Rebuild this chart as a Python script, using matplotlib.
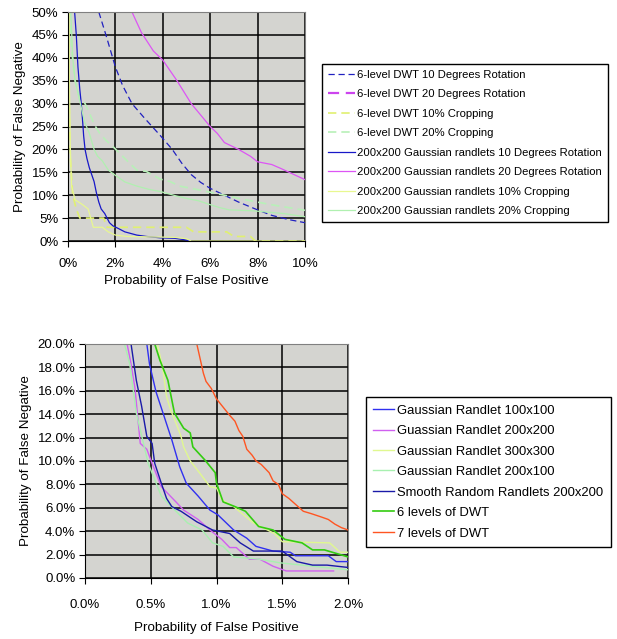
import matplotlib
matplotlib.use("Agg")
import matplotlib.pyplot as plt
from matplotlib.ticker import FuncFormatter, MultipleLocator

plt.rcParams['font.family'] = ['Liberation Sans', 'DejaVu Sans']

# ---------------------------------------------------------------------------
# Top chart data (x = P(false positive) %, y = P(false negative) %)
# ---------------------------------------------------------------------------
dwt_rot10_x = [1.3, 1.6, 2.0, 2.3, 2.7, 3.2, 3.9, 4.4, 4.8, 5.2, 5.6, 6.0, 6.6, 7.2, 8.0, 8.6, 9.3, 10.0]
dwt_rot10_y = [50, 45, 38, 34, 30, 27, 23, 20, 17, 14.5, 12.8, 11.5, 10, 8.5, 6.8, 5.6, 4.7, 4.0]

dwt_rot20_x = []   # falls outside the plotted range
dwt_rot20_y = []

dwt_crop10_x = [0.02, 0.05, 0.1, 0.2, 0.35, 0.5, 1.5, 1.65, 5.0, 5.3, 6.7, 7.0, 7.7, 7.9, 10.0]
dwt_crop10_y = [50, 30, 18, 10, 7, 5, 5, 3, 3, 2, 2, 1, 1, 0, 0]

dwt_crop20_x = [0.07, 0.15, 0.3, 0.5, 0.7, 0.9, 1.1, 1.34, 1.6, 1.9, 2.46, 2.9, 3.3, 3.9, 4.3, 4.7, 5.6, 6.6, 7.5, 8.5, 10.0]
dwt_crop20_y = [50, 42, 35, 31, 30.2, 28, 25.5, 23.5, 22, 20.6, 17.7, 15.5, 15.2, 13.5, 13, 12, 11.1, 10, 9, 8, 6.7]

rnd_rot10_x = [0.28, 0.35, 0.42, 0.5, 0.56, 0.62, 0.66, 0.72, 0.8, 0.9, 1.0, 1.1, 1.2, 1.3, 1.4, 1.55, 1.65,
               1.75, 1.9, 2.1, 2.4, 2.9, 3.3, 3.9, 4.5, 4.9, 5.2]
rnd_rot10_y = [50, 45, 38, 33, 30, 26, 23, 20, 18, 16, 14.5, 13, 10.5, 8.5, 7, 6, 5,
               4, 3.3, 2.8, 2, 1.3, 1.0, 0.7, 0.6, 0.3, 0]

rnd_rot20_x = [2.7, 3.1, 3.6, 4.0, 4.6, 5.2, 5.6, 6.0, 6.3, 6.6, 7.2, 7.7, 8.0, 8.6, 9.0, 10.0]
rnd_rot20_y = [50, 45.5, 41.5, 39.5, 35, 30, 27.5, 25, 23.5, 21.5, 20, 18.5, 17.3, 16.7, 15.8, 13.4]

rnd_crop10_x = [0.05, 0.06, 0.1, 0.15, 0.3, 0.6, 0.85, 1.07, 1.45, 1.7, 2.0, 2.5, 3.5, 4.5, 5.0, 5.2, 10.0]
rnd_crop10_y = [50, 35, 20, 12, 9, 8, 7, 3, 3, 2, 1.3, 1.0, 0.9, 0.8, 0.5, 0, 0]

rnd_crop20_x = [0.12, 0.2, 0.3, 0.5, 0.7, 0.9, 1.1, 1.25, 1.45, 1.7, 1.9, 2.4, 2.9, 3.4, 3.9, 4.6, 5.1, 5.5,
                5.9, 6.4, 6.8, 7.8, 9.1, 10.0]
rnd_crop20_y = [50, 40, 35, 30.5, 26, 23.5, 20, 18.5, 17.5, 15.5, 14.7, 12.9, 12, 11.3, 10.8, 9.8, 9.2, 8.8,
                8.1, 7.3, 6.8, 6.6, 6, 5.3]

# ---------------------------------------------------------------------------
# Bottom chart data
# ---------------------------------------------------------------------------
g100_x = [0.47, 0.49, 0.54, 0.59, 0.66, 0.72, 0.77, 0.86, 0.95, 1.01, 1.13, 1.23, 1.3, 1.43, 1.56, 1.6,
          1.85, 1.91, 2.0]
g100_y = [20, 18.3, 15.9, 14.2, 11.8, 9.5, 8.1, 7.0, 5.8, 5.4, 4.1, 3.4, 2.7, 2.3, 2.2, 1.9, 1.9, 1.4, 1.4]

g200_x = [0.32, 0.35, 0.38, 0.42, 0.47, 0.51, 0.58, 0.7, 0.75, 0.86, 0.95, 1.04, 1.1, 1.15, 1.25, 1.33,
          1.43, 1.53, 1.89]
g200_y = [20, 18.3, 16.2, 11.5, 11.0, 9.8, 7.8, 6.4, 5.8, 5.0, 4.1, 3.3, 2.6, 2.6, 1.6, 1.6, 1.0, 0.6, 0.6]

g300_x = [0.55, 0.59, 0.62, 0.65, 0.7, 0.73, 0.75, 0.8, 0.87, 0.95, 1.0, 1.04, 1.13, 1.28, 1.44, 1.5,
          1.86, 1.94, 2.0]
g300_y = [20, 18.0, 15.5, 14.4, 13.0, 12.1, 11.2, 10.0, 9.0, 7.8, 7.7, 6.7, 6.1, 4.7, 3.8, 3.1, 3.0, 2.2, 2.2]

g200x100_x = [0.3, 0.34, 0.39, 0.48, 0.53, 0.58, 0.63, 0.71, 0.78, 0.89, 0.97, 1.05, 1.13, 1.33, 1.48,
              1.73, 2.0]
g200x100_y = [20, 18.3, 14.1, 9.8, 8.4, 7.0, 6.4, 5.5, 4.7, 4.1, 3.0, 2.7, 1.8, 1.6, 1.3, 1.0, 0.7]

smooth_x = [0.35, 0.39, 0.43, 0.47, 0.51, 0.53, 0.58, 0.62, 0.66, 0.73, 0.85, 0.97, 1.1, 1.18, 1.28, 1.5,
            1.61, 1.73, 1.84, 2.0]
smooth_y = [20, 16.9, 14.7, 12.1, 11.5, 9.8, 8.1, 6.8, 6.1, 5.7, 4.8, 4.1, 3.8, 3.0, 2.3, 2.3,
            1.4, 1.1, 1.1, 0.9]

dwt6_x = [0.53, 0.57, 0.63, 0.68, 0.75, 0.8, 0.82, 0.91, 0.99, 1.0, 1.05, 1.14, 1.22, 1.32, 1.43, 1.52,
          1.65, 1.73, 1.82, 2.0]
dwt6_y = [20, 18.6, 16.9, 14.1, 12.8, 12.4, 11.2, 10.1, 9.0, 8.1, 6.5, 6.1, 5.7, 4.4, 4.1, 3.3,
          3.0, 2.4, 2.4, 1.8]

dwt7_x = [0.85, 0.88, 0.9, 0.92, 0.96, 1.0, 1.05, 1.1, 1.14, 1.17, 1.2, 1.23, 1.27, 1.3, 1.34, 1.4, 1.43,
          1.47, 1.5, 1.55, 1.6, 1.66, 1.72, 1.8, 1.85, 1.9, 1.95, 2.0]
dwt7_y = [20, 18.5, 17.5, 16.8, 16.2, 15.3, 14.6, 13.9, 13.4, 12.6, 12.1, 11.0, 10.5, 10.0, 9.7, 9.0, 8.3,
          8.0, 7.2, 6.8, 6.3, 5.7, 5.5, 5.2, 5.0, 4.6, 4.3, 4.1]

BG = '#d4d4d0'

fig = plt.figure(figsize=(6.17, 6.39), dpi=100)


def style_axes(ax, xpad=5, xlabelpad=5):
    ax.set_facecolor(BG)
    ax.grid(True, color='black', linewidth=1.1)
    ax.set_axisbelow(True)
    for side in ['top', 'right']:
        ax.spines[side].set_color('#808080')
    for side in ['left', 'bottom']:
        ax.spines[side].set_color('black')
    ax.tick_params(axis='both', direction='out', length=4, color='black', labelsize=9.5, pad=3)
    ax.tick_params(axis='x', pad=xpad)
    ax.set_ylabel('Probability of False Negative', fontsize=9.6, labelpad=4)
    ax.set_xlabel('Probability of False Positive', fontsize=9.6, labelpad=xlabelpad)


# ---- top chart ----
ax1 = fig.add_axes([0.1102, 0.6228, 0.3841, 0.3584])
style_axes(ax1, xpad=8, xlabelpad=4)
lw = 0.9
ax1.plot(dwt_rot10_x, dwt_rot10_y, color='#2020c0', ls=(0, (5, 3)), lw=lw, label='6-level DWT 10 Degrees Rotation')
ax1.plot(dwt_rot20_x, dwt_rot20_y, color='#cc44ee', ls=(0, (5, 3)), lw=1.6, label='6-level DWT 20 Degrees Rotation')
ax1.plot(dwt_crop10_x, dwt_crop10_y, color='#e0f070', ls=(0, (5, 3)), lw=1.2, label='6-level DWT 10% Cropping')
ax1.plot(dwt_crop20_x, dwt_crop20_y, color='#b8f0b8', ls=(0, (5, 3)), lw=1.2, label='6-level DWT 20% Cropping')
ax1.plot(rnd_rot10_x, rnd_rot10_y, color='#1818c8', lw=lw, label='200x200 Gaussian randlets 10 Degrees Rotation')
ax1.plot(rnd_rot20_x, rnd_rot20_y, color='#dd55f5', lw=lw, label='200x200 Gaussian randlets 20 Degrees Rotation')
ax1.plot(rnd_crop10_x, rnd_crop10_y, color='#e8f890', lw=lw, label='200x200 Gaussian randlets 10% Cropping')
ax1.plot(rnd_crop20_x, rnd_crop20_y, color='#b0f0b0', lw=lw, label='200x200 Gaussian randlets 20% Cropping')
ax1.set_xlim(0, 10)
ax1.set_ylim(0, 50)
ax1.xaxis.set_major_locator(MultipleLocator(2))
ax1.yaxis.set_major_locator(MultipleLocator(5))
ax1.xaxis.set_major_formatter(FuncFormatter(lambda v, p: f'{v:.0f}%'))
ax1.yaxis.set_major_formatter(FuncFormatter(lambda v, p: f'{v:.0f}%'))

leg1 = fig.legend(handles=ax1.get_lines(), loc='center left',
                  bbox_to_anchor=(0.5219, 0.6557, 0.47, 0.241), fontsize=8.1,
                  frameon=True, fancybox=False, edgecolor='black', framealpha=1,
                  handlelength=2.4, handletextpad=0.2, labelspacing=0.84,
                  borderpad=0.55, borderaxespad=0)
leg1.get_frame().set_linewidth(1.0)

# ---- bottom chart ----
ax2 = fig.add_axes([0.1378, 0.0955, 0.4263, 0.3662])
style_axes(ax2, xpad=11, xlabelpad=8)
ax2.plot(g100_x, g100_y, color='#3030f0', lw=1.0, label='Gaussian Randlet 100x100')
ax2.plot(g200_x, g200_y, color='#d060f0', lw=1.0, label='Guassian Randlet 200x200')
ax2.plot(g300_x, g300_y, color='#e0f890', lw=1.0, label='Gaussian Randlet 300x300')
ax2.plot(g200x100_x, g200x100_y, color='#a8f0b0', lw=1.0, label='Gaussian Randlet 200x100')
ax2.plot(smooth_x, smooth_y, color='#1a1aa8', lw=1.0, label='Smooth Random Randlets 200x200')
ax2.plot(dwt6_x, dwt6_y, color='#33cc11', lw=1.2, label='6 levels of DWT')
ax2.plot(dwt7_x, dwt7_y, color='#ff5522', lw=1.0, label='7 levels of DWT')
ax2.set_xlim(0, 2)
ax2.set_ylim(0, 20)
ax2.xaxis.set_major_locator(MultipleLocator(0.5))
ax2.yaxis.set_major_locator(MultipleLocator(2))
ax2.xaxis.set_major_formatter(FuncFormatter(lambda v, p: f'{v:.1f}%'))
ax2.yaxis.set_major_formatter(FuncFormatter(lambda v, p: f'{v:.1f}%'))

leg2 = fig.legend(handles=ax2.get_lines(), loc='center left',
                  bbox_to_anchor=(0.5932, 0.1471, 0.3987, 0.2285), fontsize=9.4,
                  frameon=True, fancybox=False, edgecolor='black', framealpha=1,
                  handlelength=1.6, handletextpad=0.25, labelspacing=0.64,
                  borderpad=0.55, borderaxespad=0)
leg2.get_frame().set_linewidth(1.0)

fig.savefig('out.png', dpi=100)
